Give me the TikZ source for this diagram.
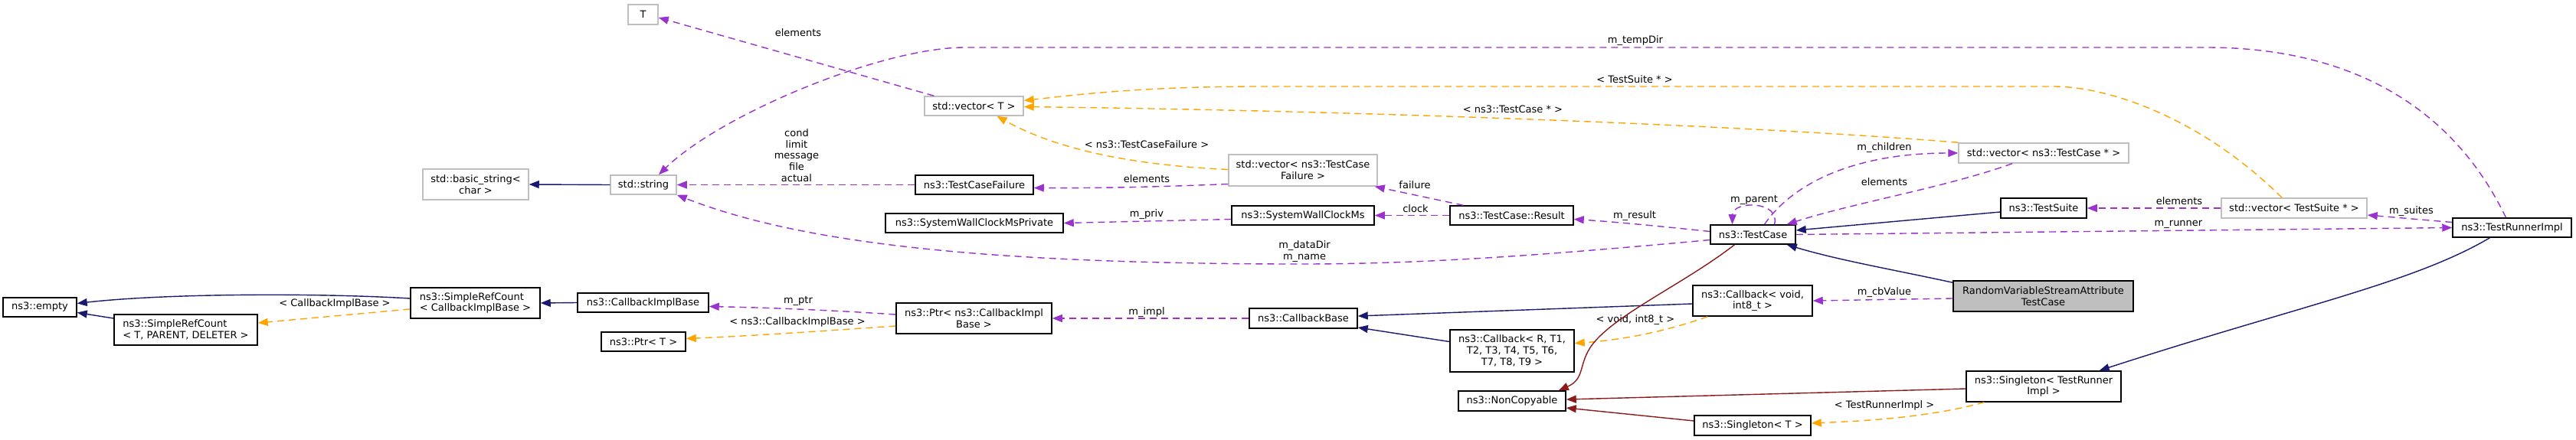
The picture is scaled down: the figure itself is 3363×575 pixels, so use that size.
\documentclass[tikz,border=0pt]{standalone}
\usepackage{fontspec}
\setmainfont{DejaVu Sans}
\usetikzlibrary{arrows.meta,calc}
\definecolor{eblue}{HTML}{191970}
\definecolor{epurple}{HTML}{9A32CD}
\definecolor{eorange}{HTML}{FFA500}
\definecolor{ered}{HTML}{8B1A1A}
\definecolor{egray}{HTML}{BFBFBF}
\begin{document}
\begin{tikzpicture}[x=1pt,y=-1pt,
  every node/.style={font=\fontsize{13}{14.7}\selectfont},
  cls/.style={draw=black,line width=1.5pt,fill=white,inner sep=0pt,align=center},
  ext/.style={draw=egray,line width=1.5pt,fill=white,inner sep=0pt,align=center},
  lbl/.style={inner sep=0pt,align=center},
  tip/.style={-{Triangle[length=13pt,width=10pt]}},
  inh/.style={tip,draw=eblue,line width=1.4pt},
  priv/.style={tip,draw=ered,line width=1.4pt},
  use/.style={tip,draw=epurple,line width=1.4pt,dash pattern=on 9pt off 6pt},
  tmpl/.style={tip,draw=eorange,line width=1.4pt,dash pattern=on 9pt off 6pt}
]
\useasboundingbox (0,0) rectangle (3363,575);
\fill[white] (0,0) rectangle (3363,575);

% nodes
\node[cls,minimum width=96,minimum height=25] (empty) at (52,401.5) {ns3::empty};
\node[cls,minimum width=187,minimum height=40,align=left] (srcTPD) at (242.5,431) {ns3::SimpleRefCount\\< T, PARENT, DELETER >};
\node[cls,minimum width=169,minimum height=40,align=left] (srcCIB) at (620.5,396) {ns3::SimpleRefCount\\< CallbackImplBase >};
\node[cls,minimum width=171,minimum height=25] (cib) at (839.5,395.5) {ns3::CallbackImplBase};
\node[cls,minimum width=110,minimum height=25] (ptrT) at (840,446.5) {ns3::Ptr< T >};
\node[cls,minimum width=203,minimum height=40] (ptrCIB) at (1271.5,416) {ns3::Ptr< ns3::CallbackImpl\\Base >};
\node[cls,minimum width=232,minimum height=25] (swcmp) at (1272,291.5) {ns3::SystemWallClockMsPrivate};
\node[ext,minimum width=39,minimum height=26] (T) at (839.5,19) {T};
\node[ext,minimum width=129,minimum height=25] (vecT) at (1271.5,138.5) {std::vector< T >};
\node[ext,minimum width=138,minimum height=40] (bstr) at (621,241) {std::basic\_string<\\char >};
\node[ext,minimum width=86,minimum height=25] (str) at (840,241.5) {std::string};
\node[cls,minimum width=154,minimum height=25] (tcf) at (1272,241.5) {ns3::TestCaseFailure};
\node[ext,minimum width=194,minimum height=41] (vecTCF) at (1701,222.5) {std::vector< ns3::TestCase\\Failure >};
\node[cls,minimum width=186,minimum height=25] (swcm) at (1701,281.5) {ns3::SystemWallClockMs};
\node[cls,minimum width=161,minimum height=25] (result) at (1973.5,281.5) {ns3::TestCase::Result};
\node[cls,minimum width=141,minimum height=26] (cbbase) at (1701.5,416) {ns3::CallbackBase};
\node[cls,minimum width=162,minimum height=55] (cbR) at (1974,458.5) {ns3::Callback< R, T1,\\T2, T3, T4, T5, T6,\\T7, T8, T9 >};
\node[cls,minimum width=140,minimum height=26] (noncopy) at (1974,524) {ns3::NonCopyable};
\node[ext,minimum width=222,minimum height=26] (vecTC) at (2668,200) {std::vector< ns3::TestCase * >};
\node[cls,minimum width=112,minimum height=26] (testsuite) at (2668,272) {ns3::TestSuite};
\node[cls,minimum width=111,minimum height=25] (testcase) at (2288.5,306.5) {ns3::TestCase};
\node[cls,minimum width=156,minimum height=40] (cbvoid) at (2288,393) {ns3::Callback< void,\\int8\_t >};
\node[cls,fill=egray,minimum width=235,minimum height=40] (rvsatc) at (2667.5,387) {RandomVariableStreamAttribute\\TestCase};
\node[cls,minimum width=202,minimum height=40] (singTRI) at (2668,505) {ns3::Singleton< TestRunner\\Impl >};
\node[cls,minimum width=152,minimum height=26] (singT) at (2288,556) {ns3::Singleton< T >};
\node[ext,minimum width=190,minimum height=26] (vecTS) at (2995,272) {std::vector< TestSuite * >};
\node[cls,minimum width=155,minimum height=25] (tri) at (3279.5,297.5) {ns3::TestRunnerImpl};

% edges
\draw[inh] ($(srcCIB.west)+(0,-6)$) .. controls (420,383) and (220,383) .. ($(empty.east)+(0,-5)$);
\draw[inh] ($(srcTPD.west)+(0,-15)$) -- ($(empty.east)+(0,7)$);
\draw[tmpl] ($(srcCIB.west)+(0,8)$) -- ($(srcTPD.east)+(0,-9)$);
\node[lbl] (l1) at (437,397) {< CallbackImplBase >};
\draw[inh] (cib.west) -- (srcCIB.east);
\draw[use] ($(ptrCIB.west)+(0,-5)$) .. controls (1080,405) and (1000,402) .. ($(cib.east)+(0,5)$);
\node[lbl] (l2) at (1042,393) {m\_ptr};
\draw[tmpl] ($(ptrCIB.west)+(0,10)$) .. controls (1080,432) and (1000,438) .. ($(ptrT.east)+(0,-4)$);
\node[lbl] (l3) at (1041,421) {< ns3::CallbackImplBase >};
\draw[use] (cbbase.west) -- (ptrCIB.east);
\node[lbl] (l4) at (1497,408) {m\_impl};
\draw[inh] (str.west) -- (bstr.east);
\draw[use] (tcf.west) -- (str.east);
\node[lbl] (l5) at (1040,203) {cond\\limit\\message\\file\\actual};
\draw[use] ($(vecT.north west)+(13,0)$) -- ($(T.east)+(0,4)$);
\node[lbl] (l6) at (1042,43) {elements};
\draw[use] ($(vecTCF.west)+(0,18)$) .. controls (1520,244) and (1440,246) .. ($(tcf.east)+(0,4)$);
\node[lbl] (l7) at (1497,234) {elements};
\draw[tmpl] ($(vecTCF.west)+(0,-1)$) .. controls (1460,215) and (1370,190) .. ($(vecT.south)+(30,0)$);
\node[lbl] (l8) at (1497,189) {< ns3::TestCaseFailure >};
\draw[use] ($(swcm.west)+(0,5)$) -- ($(swcmp.east)+(0,0)$);
\node[lbl] (l9) at (1497,280) {m\_priv};
\draw[use] (result.west) -- (swcm.east);
\node[lbl] (l10) at (1848,273) {clock};
\draw[use] ($(result.north west)+(18,0)$) -- ($(vecTCF.south east)+(-4,0)$);
\node[lbl] (l11) at (1847,242) {failure};
\draw[use] ($(testcase.west)+(0,-4)$) .. controls (2170,296) and (2110,290) .. ($(result.east)+(0,5)$);
\node[lbl] (l12) at (2134,282) {m\_result};
\draw[use] ($(testcase.west)+(0,7)$) .. controls (2000,335) and (1850,345) .. (1700,345) .. controls (1300,345) and (1050,320) .. (str.south east);
\node[lbl] (l13) at (1703,328.5) {m\_dataDir\\m\_name};
\draw[use] ($(tri.north)+(-8,0)$) .. controls (3240,220) and (3150,62) .. (2880,62) -- (1260,62) .. controls (1150,62) and (940,150) .. ($(str.north)+(20,0)$);
\node[lbl] (l14) at (2135,53) {m\_tempDir};
\draw[tmpl] ($(vecTS.north)+(-16,0)$) .. controls (2880,160) and (2760,113) .. (2680,113) -- (1650,113) .. controls (1500,113) and (1420,122) .. ($(vecT.east)+(0,-7)$);
\node[lbl] (l15) at (2134,104) {< TestSuite * >};
\draw[tmpl] (vecTC.north west) .. controls (2300,165) and (1800,145) .. ($(vecT.east)+(0,1)$);
\node[lbl] (l16) at (1975,143) {< ns3::TestCase * >};
\draw[use] ($(testcase.north)+(15,0)$) .. controls (2340,240) and (2420,200) .. (vecTC.west);
\node[lbl] (l17) at (2460,193) {m\_children};
\draw[use] ($(vecTC.south)+(-41,0)$) .. controls (2540,245) and (2420,265) .. ($(testcase.north east)+(-12,0)$);
\node[lbl] (l18) at (2460,238) {elements};
\draw[use] ($(testcase.north)+(28,0)$) .. controls (2325,262) and (2262,262) .. ($(testcase.north)+(-27,0)$);
\node[lbl] (l19) at (2290,261) {m\_parent};
\draw[inh] ($(testsuite.west)+(0,5)$) -- ($(testcase.east)+(0,-5.5)$);
\draw[use] (vecTS.west) -- (testsuite.east);
\node[lbl] (l20) at (2845,263) {elements};
\draw[use] ($(tri.west)+(0,-7)$) -- ($(vecTS.east)+(0,9)$);
\node[lbl] (l21) at (3148,276) {m\_suites};
\draw[use] (testcase.east) -- (tri.west);
\node[lbl] (l22) at (2844,293) {m\_runner};
\draw[inh] ($(rvsatc.north west)+(0,3)$) .. controls (2470,352) and (2400,340) .. ($(testcase.south east)+(-12,0)$);
\draw[use] ($(rvsatc.west)+(0,3)$) -- (cbvoid.east);
\node[lbl] (l23) at (2460,382) {m\_cbValue};
\draw[inh] ($(cbvoid.west)+(0,4)$) -- ($(cbbase.east)+(0,-3)$);
\draw[inh] ($(cbR.west)+(0,-12)$) -- ($(cbbase.east)+(0,12)$);
\draw[tmpl] ($(cbvoid.south west)+(20,0)$) .. controls (2170,435) and (2110,445) .. ($(cbR.east)+(0,-10)$);
\node[lbl] (l24) at (2135,418) {< void, int8\_t >};
\draw[priv] ($(testcase.south)+(-24,0)$) .. controls (2200,370) and (2110,410) .. (2079,450) .. controls (2060,475) and (2070,495) .. ($(noncopy.north east)+(-10,0)$);
\draw[priv] ($(singTRI.west)+(0,3)$) -- ($(noncopy.east)+(0,-2)$);
\draw[priv] ($(singT.west)+(0,-6)$) -- ($(noncopy.east)+(0,9)$);
\draw[tmpl] ($(singTRI.south west)+(24,0)$) .. controls (2520,545) and (2440,550) .. ($(singT.east)+(0,-3)$);
\node[lbl] (l25) at (2460,530) {< TestRunnerImpl >};
\draw[inh] ($(tri.south)+(-29,0)$) .. controls (3150,370) and (3000,400) .. ($(singTRI.north east)+(-29,0)$);
\end{tikzpicture}
\end{document}
